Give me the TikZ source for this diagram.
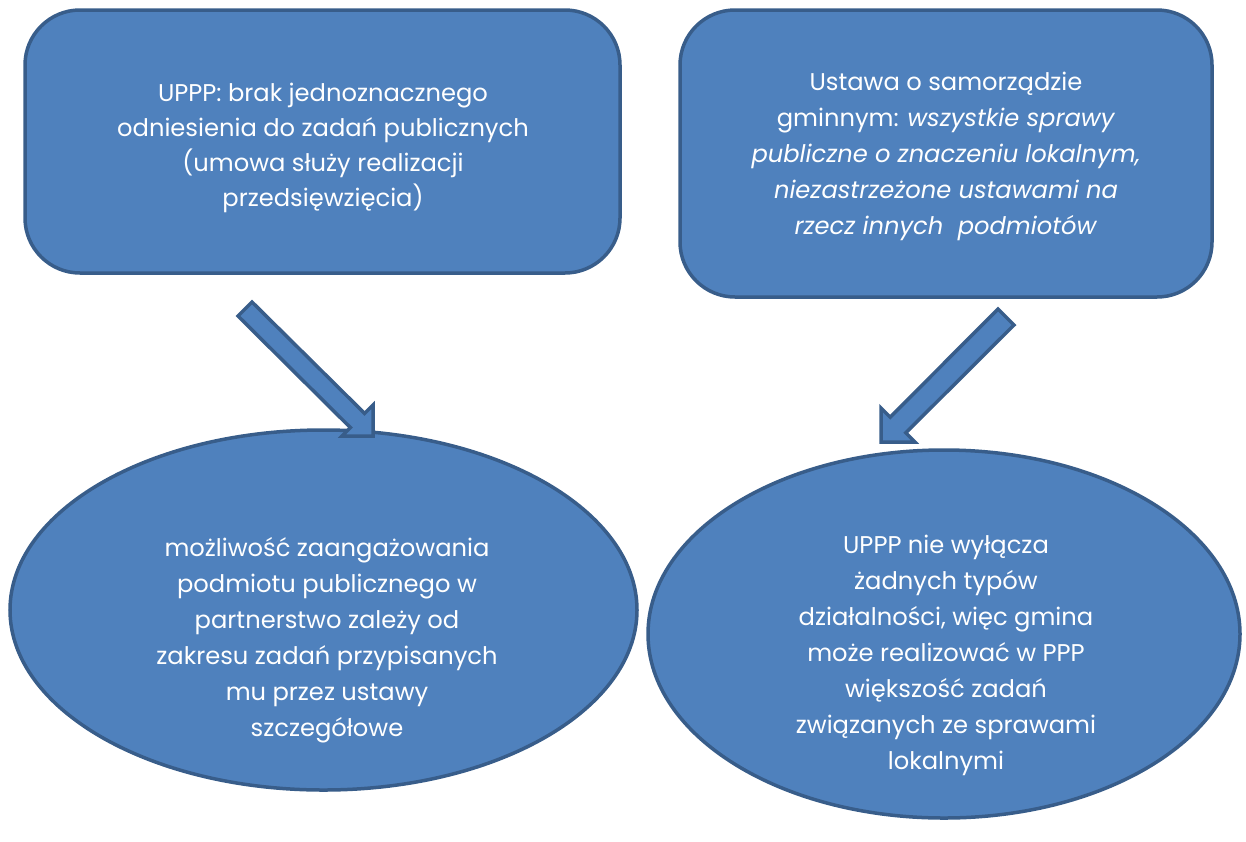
\documentclass[tikz,border=0pt]{standalone}
\usepackage{fontspec}
\setmainfont{Poppins}
\usetikzlibrary{shapes.geometric}
\definecolor{boxfill}{HTML}{4F81BD}
\definecolor{boxline}{HTML}{385D8A}
\tikzset{
  panel/.style={draw=boxline, line width=3.5pt, fill=boxfill, rounded corners=55pt, inner sep=0pt},
  oval/.style={draw=boxline, line width=3.5pt, fill=boxfill, ellipse, inner sep=0pt},
  blockarrow/.style={draw=boxline, line width=3.5pt, fill=boxfill, line join=miter},
  txt/.style={text=white, align=center, font=\fontsize{24.2}{36}\selectfont, inner sep=0pt}
}
\begin{document}
\begin{tikzpicture}[x=1pt,y=-1pt]
\useasboundingbox (0,0) rectangle (1246,841);
% top boxes
\node[panel, minimum width=595pt, minimum height=263pt] (b1) at (322.5,141.5) {};
\node[panel, minimum width=532pt, minimum height=287pt] (b2) at (946,153.5) {};
\node[txt, font=\fontsize{24.2}{35}\selectfont] (t1) at (323,148) {UPPP: brak jednoznacznego\\odniesienia do zadań publicznych\\(umowa służy realizacji\\przedsięwzięcia)};
\node[txt] (t2) at (946,156) {Ustawa o samorządzie\\gminnym: \textit{wszystkie sprawy}\\\textit{publiczne o znaczeniu lokalnym,}\\\textit{niezastrzeżone ustawami na}\\\textit{rzecz innych\ \ podmiotów}};
% ellipses
\node[oval, minimum width=627pt, minimum height=360pt] (e1) at (323.5,610) {};
\node[oval, minimum width=592pt, minimum height=368pt] (e2) at (944,634) {};
\node[txt] (t3) at (327,640) {możliwość zaangażowania\\podmiotu publicznego w\\partnerstwo zależy od\\zakresu zadań przypisanych\\mu przez ustawy\\szczegółowe};
\node[txt] (t4) at (946,655) {UPPP nie wyłącza\\żadnych typów\\działalności, więc gmina\\może realizować w PPP\\większość zadań\\związanych ze sprawami\\lokalnymi};
% block arrows
\draw[blockarrow] (238,316) -- (252,302) -- (364.6,413.4) -- (373,405) -- (373,436) -- (342,436) -- (350.4,427.6) -- cycle;
\draw[blockarrow] (998,309) -- (1014,325) -- (905.8,432.8) -- (915,442) -- (881,442) -- (881,408) -- (890.2,417.2) -- cycle;
\end{tikzpicture}
\end{document}
